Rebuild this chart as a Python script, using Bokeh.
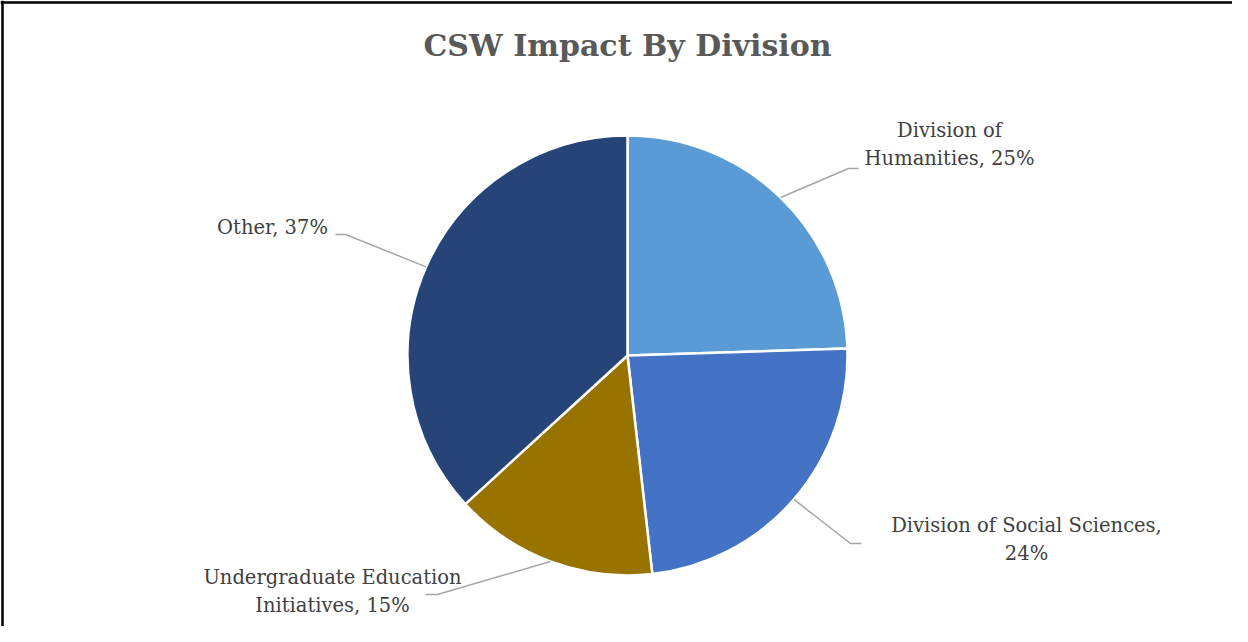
import numpy as np
from bokeh.plotting import figure
from bokeh.models import Range1d, Span, ColumnDataSource
from bokeh.core.properties import value
from bokeh.embed import file_html
from bokeh.resources import INLINE

# ---- data ----
categories = ["Division of Humanities", "Division of Social Sciences",
              "Undergraduate Education Initiatives", "Other"]
shares = [24.5, 23.7, 15.0, 36.8]
colors = ["#5B9BD5", "#4472C4", "#997300", "#264478"]
label_texts = ["Division of\nHumanities, 25%",
               "Division of Social Sciences,\n24%",
               "Undergraduate Education\nInitiatives, 15%",
               "Other, 37%"]
title_text = "CSW Impact By Division"

W, H = 1232, 626
def px(x, y):
    # page pixel -> data coordinates
    return x - 8, (H + 8) - y

p = figure(width=W, height=H, output_backend="svg", toolbar_location=None,
           x_range=Range1d(0, W), y_range=Range1d(0, H),
           x_axis_type=None, y_axis_type=None, min_border=0,
           outline_line_color=None, background_fill_color="white",
           border_fill_color="white")
p.grid.visible = False

# frame (top and left edges visible)
p.add_layout(Span(location=2, dimension="height", line_color="black", line_width=2.5))
p.add_layout(Span(location=H - 2, dimension="width", line_color="black", line_width=2.5))

# pie
cx, cy = px(635, 363)
R = 220
vals = np.array(shares, dtype=float)
fr = vals / vals.sum()
ends = np.cumsum(fr)
starts = ends - fr
start_ang = np.pi / 2 - starts * 2 * np.pi
end_ang = np.pi / 2 - ends * 2 * np.pi
src = ColumnDataSource(dict(start=start_ang, end=end_ang, color=colors, cat=categories))
p.wedge(x=cx, y=cy, radius=R, start_angle="start", end_angle="end",
        direction="clock", fill_color="color", line_color="white",
        line_width=2.5, source=src)

# leader lines and labels
mid = (start_ang + end_ang) / 2
elbows = [(856, 176, 866), (858, 551, 869), (445, 602, 433), (353, 242, 343)]
label_pos = [(957, 152), (1034, 547), (340, 599), (280, 235)]
for i in range(4):
    ex, ey = cx + R * np.cos(mid[i]), cy + R * np.sin(mid[i])
    bx, by = px(elbows[i][0], elbows[i][1])
    tx, _ = px(elbows[i][2], elbows[i][1])
    p.line([ex, bx, tx], [ey, by, by], line_color="#A6A6A6", line_width=1.5)
    lx, ly = px(*label_pos[i])
    p.text(x=[lx], y=[ly], text=[label_texts[i]], text_align="center",
           text_baseline="middle", text_font=value("DejaVu Serif"),
           text_font_size="19.5px", text_color="#404040", text_line_height=1.2)

tx, ty = px(635, 53)
p.text(x=[tx], y=[ty], text=[title_text], text_align="center", text_baseline="middle",
       text_font=value("DejaVu Serif"), text_font_style="bold",
       text_font_size="30px", text_color="#595959")

open("out.html", "w").write(file_html(p, INLINE))
